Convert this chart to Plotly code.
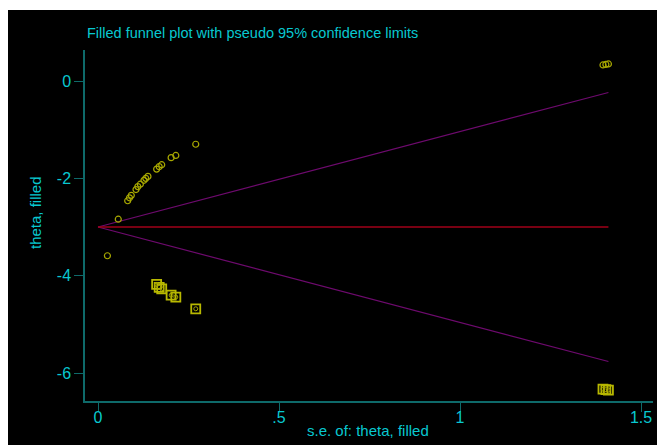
import plotly.graph_objects as go

# observed studies (se, theta)
obs_se = [0.270, 0.215, 0.202, 0.176, 0.169, 0.162, 0.138, 0.132, 0.127, 0.117,
          0.110, 0.105, 0.092, 0.087, 0.082, 0.056, 0.026, 1.395, 1.403, 1.410]
obs_theta = [-1.30, -1.53, -1.575, -1.72, -1.76, -1.81, -1.96, -2.00, -2.04, -2.12,
             -2.17, -2.23, -2.35, -2.40, -2.46, -2.84, -3.59, 0.33, 0.34, 0.35]

# filled (imputed) studies
fill_se = [0.270, 0.215, 0.202, 0.176, 0.169, 0.162, 1.395, 1.403, 1.410]
fill_theta = [-4.68, -4.44, -4.40, -4.27, -4.24, -4.18, -6.33, -6.34, -6.35]

# pooled estimate and pseudo 95% limits
pooled = -3.0
line_se = [0.0, 1.41]
upper_lim = [-3.0, -0.236]
lower_lim = [-3.0, -5.764]
pooled_line = [pooled, pooled]

xtick_vals = [0, 0.5, 1, 1.5]
xtick_text = ["0", ".5", "1", "1.5"]
ytick_vals = [0, -2, -4, -6]
ytick_text = ["0", "-2", "-4", "-6"]

TXT = "#08C8D0"
AX = "#0E6A6A"
FONT = "Liberation Sans, Arial, sans-serif"

fig = go.Figure()
fig.add_trace(go.Scatter(x=line_se, y=upper_lim, mode="lines",
                         line=dict(color="#6E0A6E", width=1.2), hoverinfo="skip"))
fig.add_trace(go.Scatter(x=line_se, y=lower_lim, mode="lines",
                         line=dict(color="#6E0A6E", width=1.2), hoverinfo="skip"))
fig.add_trace(go.Scatter(x=line_se, y=pooled_line, mode="lines",
                         line=dict(color="#A00018", width=1.6), hoverinfo="skip"))
fig.add_trace(go.Scatter(x=obs_se, y=obs_theta, mode="markers",
                         marker=dict(symbol="circle-open", size=6, color="#A8A800",
                                     line=dict(width=1.2, color="#A8A800"))))
fig.add_trace(go.Scatter(x=fill_se, y=fill_theta, mode="markers",
                         marker=dict(symbol="square-open", size=9, color="#B8B800",
                                     line=dict(width=1.8, color="#B8B800"))))
fig.add_trace(go.Scatter(x=fill_se, y=fill_theta, mode="markers",
                         marker=dict(symbol="circle-open", size=4, color="#A8A800",
                                     line=dict(width=1, color="#A8A800"))))

OFF = 8  # page body margin
W, H = 665 - OFF, 445 - OFF
# plot area in page pixels: x 85..653, y 50..401
L, T = 85 - OFF, 50 - OFF
R = W - (653 - OFF)
B = H - (401 - OFF)
pw, ph = W - L - R, H - T - B

def px(xp):  # page pixel -> paper
    return (xp - OFF - L) / pw

def py(yp):
    return (H - B - (yp - OFF)) / ph

fig.update_layout(
    width=W, height=H,
    margin=dict(l=L, r=R, t=T, b=B),
    paper_bgcolor="black", plot_bgcolor="black",
    showlegend=False,
    font=dict(family=FONT, color=TXT, size=14),
    shapes=[
        dict(type="rect", xref="paper", yref="paper", x0=px(0), x1=px(700),
             y0=py(10), y1=py(OFF), fillcolor="white", line=dict(width=0),
             layer="below"),
    ],
    annotations=[
        dict(text="Filled funnel plot with pseudo 95% confidence limits",
             xref="paper", yref="paper", x=px(85), y=py(33), xanchor="left",
             yanchor="middle", showarrow=False, font=dict(size=14.5, color=TXT)),
        dict(text="s.e. of: theta, filled", xref="paper", yref="paper",
             x=px(368), y=py(431), xanchor="center", yanchor="middle",
             showarrow=False, font=dict(size=15, color=TXT)),
        dict(text="theta, filled", xref="paper", yref="paper", textangle=-90,
             x=px(35), y=py(213), xanchor="center", yanchor="middle",
             showarrow=False, font=dict(size=15, color=TXT)),
    ],
)
fig.update_xaxes(range=[(85 - 98) / 362, (653 - 98) / 362],
                 showgrid=False, zeroline=False, showline=True, linecolor=AX,
                 linewidth=1.5, ticks="outside", ticklen=9, tickcolor=AX, tickwidth=1.2,
                 tickvals=xtick_vals, ticktext=xtick_text, ticklabelstandoff=-8,
                 tickfont=dict(size=16, color=TXT))
fig.update_yaxes(range=[(81 - 401) / 48.67, (81 - 50) / 48.67],
                 showgrid=False, zeroline=False, showline=True, linecolor=AX,
                 linewidth=1.5, ticks="outside", ticklen=9, tickcolor=AX, tickwidth=1.2,
                 tickvals=ytick_vals, ticktext=ytick_text,
                 tickfont=dict(size=16, color=TXT))

fig.write_html("out.html")
